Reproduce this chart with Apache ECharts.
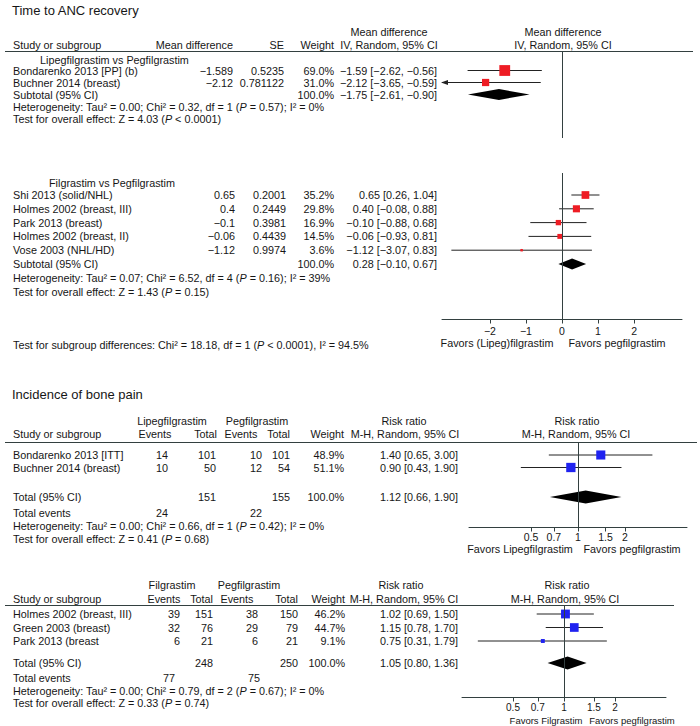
<!DOCTYPE html>
<html><head><meta charset="utf-8">
<script src="https://cdn.jsdelivr.net/npm/echarts@6/dist/echarts.min.js"></script>
<style>html,body{margin:0;padding:0;background:#fff}#c{width:700px;height:726px}</style>
</head><body><div id="c"></div>
<script>
// ================= DATA =================
// Time to ANC recovery — Lipegfilgrastim vs Pegfilgrastim
const ancLipegStudies = ['Bondarenko 2013 [PP] (b)', 'Buchner 2014 (breast)'];
const ancLipegMD = [-1.589, -2.12];
const ancLipegSE = [0.5235, 0.781122];
const ancLipegWeight = [69.0, 31.0];
const ancLipegLow = [-2.62, -3.65];
const ancLipegHigh = [-0.56, -0.59];
const ancLipegSubtotal = [-1.75, -2.61, -0.90];
const ancLipegStats = ['Heterogeneity: Tau² = 0.00; Chi² = 0.32, df = 1 ({i|P} = 0.57); I² = 0%',
                       'Test for overall effect: Z = 4.03 ({i|P} < 0.0001)'];
// Time to ANC recovery — Filgrastim vs Pegfilgrastim
const ancFilStudies = ['Shi 2013 (solid/NHL)', 'Holmes 2002 (breast, III)', 'Park 2013 (breast)', 'Holmes 2002 (breast, II)', 'Vose 2003 (NHL/HD)'];
const ancFilMD = [0.65, 0.4, -0.1, -0.06, -1.12];
const ancFilSE = [0.2001, 0.2449, 0.3981, 0.4439, 0.9974];
const ancFilWeight = [35.2, 29.8, 16.9, 14.5, 3.6];
const ancFilLow = [0.26, -0.08, -0.88, -0.93, -3.07];
const ancFilHigh = [1.04, 0.88, 0.68, 0.81, 0.83];
const ancFilSubtotal = [0.28, -0.10, 0.67];
const ancFilStats = ['Heterogeneity: Tau² = 0.07; Chi² = 6.52, df = 4 ({i|P} = 0.16); I² = 39%',
                     'Test for overall effect: Z = 1.43 ({i|P} = 0.15)'];
const ancSubgroupTest = 'Test for subgroup differences: Chi² = 18.18, df = 1 ({i|P} < 0.0001), I² = 94.5%';
const mdTicks = [-2, -1, 0, 1, 2];

// Incidence of bone pain — Lipegfilgrastim vs Pegfilgrastim
const boneLipegStudies = ['Bondarenko 2013 [ITT]', 'Buchner 2014 (breast)'];
const boneLipegEvents = [14, 10];
const boneLipegTotal = [101, 50];
const boneLipegPegEvents = [10, 12];
const boneLipegPegTotal = [101, 54];
const boneLipegWeight = [48.9, 51.1];
const boneLipegRR = [1.40, 0.90];
const boneLipegLow = [0.65, 0.43];
const boneLipegHigh = [3.00, 1.90];
const boneLipegSum = [151, 155, 24, 22];          // totals: exp N, ctrl N, exp events, ctrl events
const boneLipegTotalRR = [1.12, 0.66, 1.90];
const boneLipegStats = ['Heterogeneity: Tau² = 0.00; Chi² = 0.66, df = 1 ({i|P} = 0.42); I² = 0%',
                        'Test for overall effect: Z = 0.41 ({i|P} = 0.68)'];
// Incidence of bone pain — Filgrastim vs Pegfilgrastim
const boneFilStudies = ['Holmes 2002 (breast, III)', 'Green 2003 (breast)', 'Park 2013 (breast'];
const boneFilEvents = [39, 32, 6];
const boneFilTotal = [151, 76, 21];
const boneFilPegEvents = [38, 29, 6];
const boneFilPegTotal = [150, 79, 21];
const boneFilWeight = [46.2, 44.7, 9.1];
const boneFilRR = [1.02, 1.15, 0.75];
const boneFilLow = [0.69, 0.78, 0.31];
const boneFilHigh = [1.50, 1.70, 1.79];
const boneFilSum = [248, 250, 77, 75];
const boneFilTotalRR = [1.05, 0.80, 1.36];
const boneFilStats = ['Heterogeneity: Tau² = 0.00; Chi² = 0.79, df = 2 ({i|P} = 0.67); I² = 0%',
                      'Test for overall effect: Z = 0.33 ({i|P} = 0.74)'];
const rrTicks = [0.5, 0.7, 1, 1.5, 2];

// ================= HELPERS =================
const FONT = "'Liberation Sans', Arial, Helvetica, sans-serif";
const FS = 10.8;
const INK = '#161616';
const AXC = '#334040';
const RED = '#ee1c24';
const BLUE = '#1f22f0';
const gfx = [];
function T(str, x, y, align, size, color) {
  size = size || FS; align = align || 'left';
  gfx.push({type: 'text', x: x, y: y, silent: true,
    style: {text: str, fill: color || INK, fontSize: size, fontFamily: FONT, align: align, verticalAlign: 'middle',
      rich: {i: {fontStyle: 'italic', fontSize: size, fontFamily: FONT, fill: color || INK}}}});
}
function L(x1, y1, x2, y2) {
  gfx.push({type: 'line', silent: true, shape: {x1: x1, y1: y1, x2: x2, y2: y2}, style: {stroke: AXC, lineWidth: 1}});
}
const sg = v => (v < 0 ? '\u2212' : '') + Math.abs(v);
const f2 = v => (v < 0 ? '\u2212' : '') + Math.abs(v).toFixed(2);
const ci = (e, lo, hi) => f2(e) + ' [' + f2(lo) + ', ' + f2(hi) + ']';
const pct = w => w.toFixed(1) + '%';

// ================= TEXT / TABLE =================
// Section 1: Time to ANC recovery
const C1 = {md: 233, se: 284, w: 334, ci: 437};
T('Time to ANC recovery', 12, 10, 'left', 13);
T('Mean difference', 389, 32, 'center');
T('Mean difference', 563, 32, 'center');
T('Study or subgroup', 13, 45);
T('Mean difference', C1.md, 45, 'right');
T('SE', C1.se, 45, 'right');
T('Weight', C1.w, 45, 'right');
T('IV, Random, 95% CI', 389, 45, 'center');
T('IV, Random, 95% CI', 563, 45, 'center');
L(5, 51.5, 693, 51.5);

const P1a = {y0: 70.5, dy: 12};
const P1b = {y0: 195, dy: 13.8};
T('Lipegfilgrastim vs Pegfilgrastim', 40, 59.5);
ancLipegStudies.forEach((s, i) => {
  const y = P1a.y0 + i * P1a.dy;
  T(s, 13, y); T(sg(ancLipegMD[i]), C1.md, y, 'right'); T(String(ancLipegSE[i]), C1.se, y, 'right');
  T(pct(ancLipegWeight[i]), C1.w, y, 'right'); T(ci(ancLipegMD[i], ancLipegLow[i], ancLipegHigh[i]), C1.ci, y, 'right');
});
T('Subtotal (95% CI)', 13, P1a.y0 + 2 * P1a.dy);
T('100.0%', C1.w, P1a.y0 + 2 * P1a.dy, 'right');
T(ci(ancLipegSubtotal[0], ancLipegSubtotal[1], ancLipegSubtotal[2]), C1.ci, P1a.y0 + 2 * P1a.dy, 'right');
T(ancLipegStats[0], 13, P1a.y0 + 3 * P1a.dy);
T(ancLipegStats[1], 13, P1a.y0 + 4 * P1a.dy);

T('Filgrastim vs Pegfilgrastim', 49, 183);
ancFilStudies.forEach((s, i) => {
  const y = P1b.y0 + i * P1b.dy;
  T(s, 13, y); T(sg(ancFilMD[i]), C1.md + 2, y, 'right'); T(String(ancFilSE[i]), C1.se + 2, y, 'right');
  T(pct(ancFilWeight[i]), C1.w, y, 'right'); T(ci(ancFilMD[i], ancFilLow[i], ancFilHigh[i]), C1.ci, y, 'right');
});
T('Subtotal (95% CI)', 13, P1b.y0 + 5 * P1b.dy);
T('100.0%', C1.w, P1b.y0 + 5 * P1b.dy, 'right');
T(ci(ancFilSubtotal[0], ancFilSubtotal[1], ancFilSubtotal[2]), C1.ci, P1b.y0 + 5 * P1b.dy, 'right');
T(ancFilStats[0], 13, P1b.y0 + 6 * P1b.dy);
T(ancFilStats[1], 13, P1b.y0 + 7 * P1b.dy);
T(ancSubgroupTest, 13, 345);
T('Favors (Lipeg)filgrastim', 497, 343, 'center');
T('Favors pegfilgrastim', 617, 343, 'center');

// Section 2: Incidence of bone pain (Lipegfilgrastim)
T('Incidence of bone pain', 12, 394, 'left', 13);
const P2 = {y0: 455, dy: 12.5, totalY: 497, eventsY: 512.5, hetY: 526, testY: 538.5};
T('Lipegfilgrastim', 172, 421, 'center');
T('Pegfilgrastim', 257, 421, 'center');
T('Risk ratio', 404, 421, 'center');
T('Risk ratio', 577, 421, 'center');
T('Study or subgroup', 13, 434);
T('Events', 155, 434, 'center');
T('Total', 217, 434, 'right');
T('Events', 241, 434, 'center');
T('Total', 290, 434, 'right');
T('Weight', 344, 434, 'right');
T('M-H, Random, 95% CI', 405, 434, 'center');
T('M-H, Random, 95% CI', 576, 434, 'center');
L(5, 442.5, 697, 442.5);
boneLipegStudies.forEach((s, i) => {
  const y = P2.y0 + i * P2.dy;
  T(s, 13, y); T(String(boneLipegEvents[i]), 168, y, 'right'); T(String(boneLipegTotal[i]), 216, y, 'right');
  T(String(boneLipegPegEvents[i]), 262, y, 'right'); T(String(boneLipegPegTotal[i]), 290, y, 'right');
  T(pct(boneLipegWeight[i]), 344, y, 'right'); T(ci(boneLipegRR[i], boneLipegLow[i], boneLipegHigh[i]), 458, y, 'right');
});
T('Total (95% CI)', 13, P2.totalY);
T(String(boneLipegSum[0]), 216, P2.totalY, 'right');
T(String(boneLipegSum[1]), 290, P2.totalY, 'right');
T('100.0%', 344, P2.totalY, 'right');
T(ci(boneLipegTotalRR[0], boneLipegTotalRR[1], boneLipegTotalRR[2]), 458, P2.totalY, 'right');
T('Total events', 13, P2.eventsY);
T(String(boneLipegSum[2]), 168, P2.eventsY, 'right');
T(String(boneLipegSum[3]), 262, P2.eventsY, 'right');
T(boneLipegStats[0], 13, P2.hetY);
T(boneLipegStats[1], 13, P2.testY);
T('Favors Lipegfilgrastim', 520, 549, 'center');
T('Favors pegfilgrastim', 632, 549, 'center');

// Section 3: Incidence of bone pain (Filgrastim)
const P3 = {y0: 614, dy: 13.5, totalY: 663, eventsY: 678, hetY: 691, testY: 703};
T('Filgrastim', 172, 585, 'center');
T('Pegfilgrastim', 249, 585, 'center');
T('Risk ratio', 401, 585, 'center');
T('Risk ratio', 567, 585, 'center');
T('Study or subgroup', 13, 599);
T('Events', 164, 599, 'center');
T('Total', 213, 599, 'right');
T('Events', 237, 599, 'center');
T('Total', 298, 599, 'right');
T('Weight', 345, 599, 'right');
T('M-H, Random, 95% CI', 404, 599, 'center');
T('M-H, Random, 95% CI', 565, 599, 'center');
L(5, 605.5, 674, 605.5);
boneFilStudies.forEach((s, i) => {
  const y = P3.y0 + i * P3.dy;
  T(s, 13, y); T(String(boneFilEvents[i]), 180, y, 'right'); T(String(boneFilTotal[i]), 213, y, 'right');
  T(String(boneFilPegEvents[i]), 258, y, 'right'); T(String(boneFilPegTotal[i]), 298, y, 'right');
  T(pct(boneFilWeight[i]), 345, y, 'right'); T(ci(boneFilRR[i], boneFilLow[i], boneFilHigh[i]), 458, y, 'right');
});
T('Total (95% CI)', 13, P3.totalY);
T(String(boneFilSum[0]), 213, P3.totalY, 'right');
T(String(boneFilSum[1]), 298, P3.totalY, 'right');
T('100.0%', 345, P3.totalY, 'right');
T(ci(boneFilTotalRR[0], boneFilTotalRR[1], boneFilTotalRR[2]), 458, P3.totalY, 'right');
T('Total events', 13, P3.eventsY);
T(String(boneFilSum[2]), 175, P3.eventsY, 'right');
T(String(boneFilSum[3]), 260, P3.eventsY, 'right');
T(boneFilStats[0], 13, P3.hetY);
T(boneFilStats[1], 13, P3.testY);
T('Favors Filgrastim', 546, 720, 'center', 9.5);
T('Favors pegfilgrastim', 632, 720, 'center', 9.5);

// ================= FOREST PANELS =================
const lnT = v => Math.log(v);
const idT = v => v;
// layout of each forest panel (grid pixels + row mapping)
const panels = [
  {left: 442, top: 51.5, right: 682, bottom: 138, y0: P1a.y0, dy: P1a.dy, xMin: -3.33, xMax: 3.33, tf: idT, ref: 0,
   est: ancLipegMD, lo: ancLipegLow, hi: ancLipegHigh, w: ancLipegWeight, sum: ancLipegSubtotal, sumRow: 2,
   color: RED, dh: 11, axis: null},
  {left: 442, top: 173, right: 682, bottom: 319.5, y0: P1b.y0, dy: P1b.dy, xMin: -3.33, xMax: 3.33, tf: idT, ref: 0,
   est: ancFilMD, lo: ancFilLow, hi: ancFilHigh, w: ancFilWeight, sum: ancFilSubtotal, sumRow: 5,
   color: RED, dh: 11, axis: {ticks: mdTicks, margin: 6, size: 10.5, fmt: v => sg(Math.round(v))}},
  {left: 469, top: 442.5, right: 687, bottom: 527.5, y0: P2.y0, dy: P2.dy, xMin: Math.log(0.2), xMax: Math.log(5), tf: lnT, ref: 1,
   est: boneLipegRR, lo: boneLipegLow, hi: boneLipegHigh, w: boneLipegWeight, sum: boneLipegTotalRR, sumRow: (P2.totalY - P2.y0) / P2.dy,
   color: BLUE, dh: 13, axis: {ticks: rrTicks, margin: 4, size: 10.5, fmt: v => String(+Math.exp(v).toFixed(2))}},
  {left: 462, top: 605.5, right: 666, bottom: 697.5, y0: P3.y0, dy: P3.dy, xMin: Math.log(0.25), xMax: Math.log(4), tf: lnT, ref: 1,
   est: boneFilRR, lo: boneFilLow, hi: boneFilHigh, w: boneFilWeight, sum: boneFilTotalRR, sumRow: (P3.totalY - P3.y0) / P3.dy,
   color: BLUE, dh: 13, axis: {ticks: rrTicks, margin: 5, size: 10, fmt: v => String(+Math.exp(v).toFixed(2))}}
];

const grids = [], xAxes = [], yAxes = [], series = [];
panels.forEach((p, k) => {
  grids.push({left: p.left, top: p.top, width: p.right - p.left, height: p.bottom - p.top, containLabel: false});
  const ax = p.axis;
  xAxes.push({
    type: 'value', gridIndex: k, min: p.xMin, max: p.xMax, show: !!ax,
    splitLine: {show: false},
    axisLine: {show: !!ax, onZero: false, lineStyle: {color: AXC, width: 1}},
    axisTick: ax ? {show: true, length: 4, lineStyle: {color: AXC}, customValues: ax.ticks.map(p.tf)} : {show: false},
    axisLabel: ax ? {show: true, margin: ax.margin, color: INK, fontSize: ax.size, fontFamily: FONT,
                     customValues: ax.ticks.map(p.tf), formatter: ax.fmt} : {show: false}
  });
  yAxes.push({type: 'value', gridIndex: k, show: false, inverse: true,
    min: (p.top - p.y0) / p.dy, max: (p.bottom - p.y0) / p.dy});

  const xMin = p.xMin, xMax = p.xMax;
  // confidence interval whiskers
  series.push({
    type: 'custom', xAxisIndex: k, yAxisIndex: k, clip: false, silent: true,
    data: p.est.map((e, i) => [p.tf(p.lo[i]), p.tf(p.hi[i]), i]),
    renderItem: (params, api) => {
      const lo = api.value(0), hi = api.value(1), row = api.value(2);
      const a = api.coord([Math.max(lo, xMin), row]);
      const b = api.coord([Math.min(hi, xMax), row]);
      const ch = [{type: 'line', shape: {x1: a[0], y1: a[1], x2: b[0], y2: b[1]}, style: {stroke: '#222', lineWidth: 1}}];
      if (lo < xMin) ch.push({type: 'polygon', shape: {points: [[a[0] - 1, a[1]], [a[0] + 6, a[1] - 2.5], [a[0] + 6, a[1] + 2.5]]}, style: {fill: '#222'}});
      if (hi > xMax) ch.push({type: 'polygon', shape: {points: [[b[0] + 1, b[1]], [b[0] - 6, b[1] - 2.5], [b[0] - 6, b[1] + 2.5]]}, style: {fill: '#222'}});
      return {type: 'group', children: ch};
    }
  });
  // study point estimates (box area proportional to weight)
  series.push({
    type: 'scatter', xAxisIndex: k, yAxisIndex: k, silent: true, symbol: 'rect',
    data: p.est.map((e, i) => [p.tf(e), i, p.w[i]]),
    symbolSize: v => 1.3 * Math.sqrt(v[2]),
    itemStyle: {color: p.color, opacity: 1},
    markLine: {silent: true, symbol: 'none', label: {show: false}, animation: false,
      lineStyle: {color: AXC, width: 1, type: 'solid'},
      data: [{xAxis: p.tf(p.ref)}]}
  });
  // pooled estimate diamond
  const dh = p.dh;
  series.push({
    type: 'custom', xAxisIndex: k, yAxisIndex: k, clip: false, silent: true,
    data: [[p.tf(p.sum[0]), p.tf(p.sum[1]), p.tf(p.sum[2]), p.sumRow]],
    renderItem: (params, api) => {
      const row = api.value(3);
      const c = api.coord([api.value(0), row]);
      const l = api.coord([api.value(1), row]);
      const r = api.coord([api.value(2), row]);
      return {type: 'polygon', shape: {points: [[l[0], l[1]], [c[0], c[1] - dh / 2], [r[0], r[1]], [c[0], c[1] + dh / 2]]},
              style: {fill: '#000'}};
    }
  });
});

const chart = echarts.init(document.getElementById('c'), null, {renderer: 'svg'});
chart.setOption({
  animation: false,
  backgroundColor: '#fff',
  grid: grids, xAxis: xAxes, yAxis: yAxes, series: series,
  graphic: gfx
});
</script></body></html>
